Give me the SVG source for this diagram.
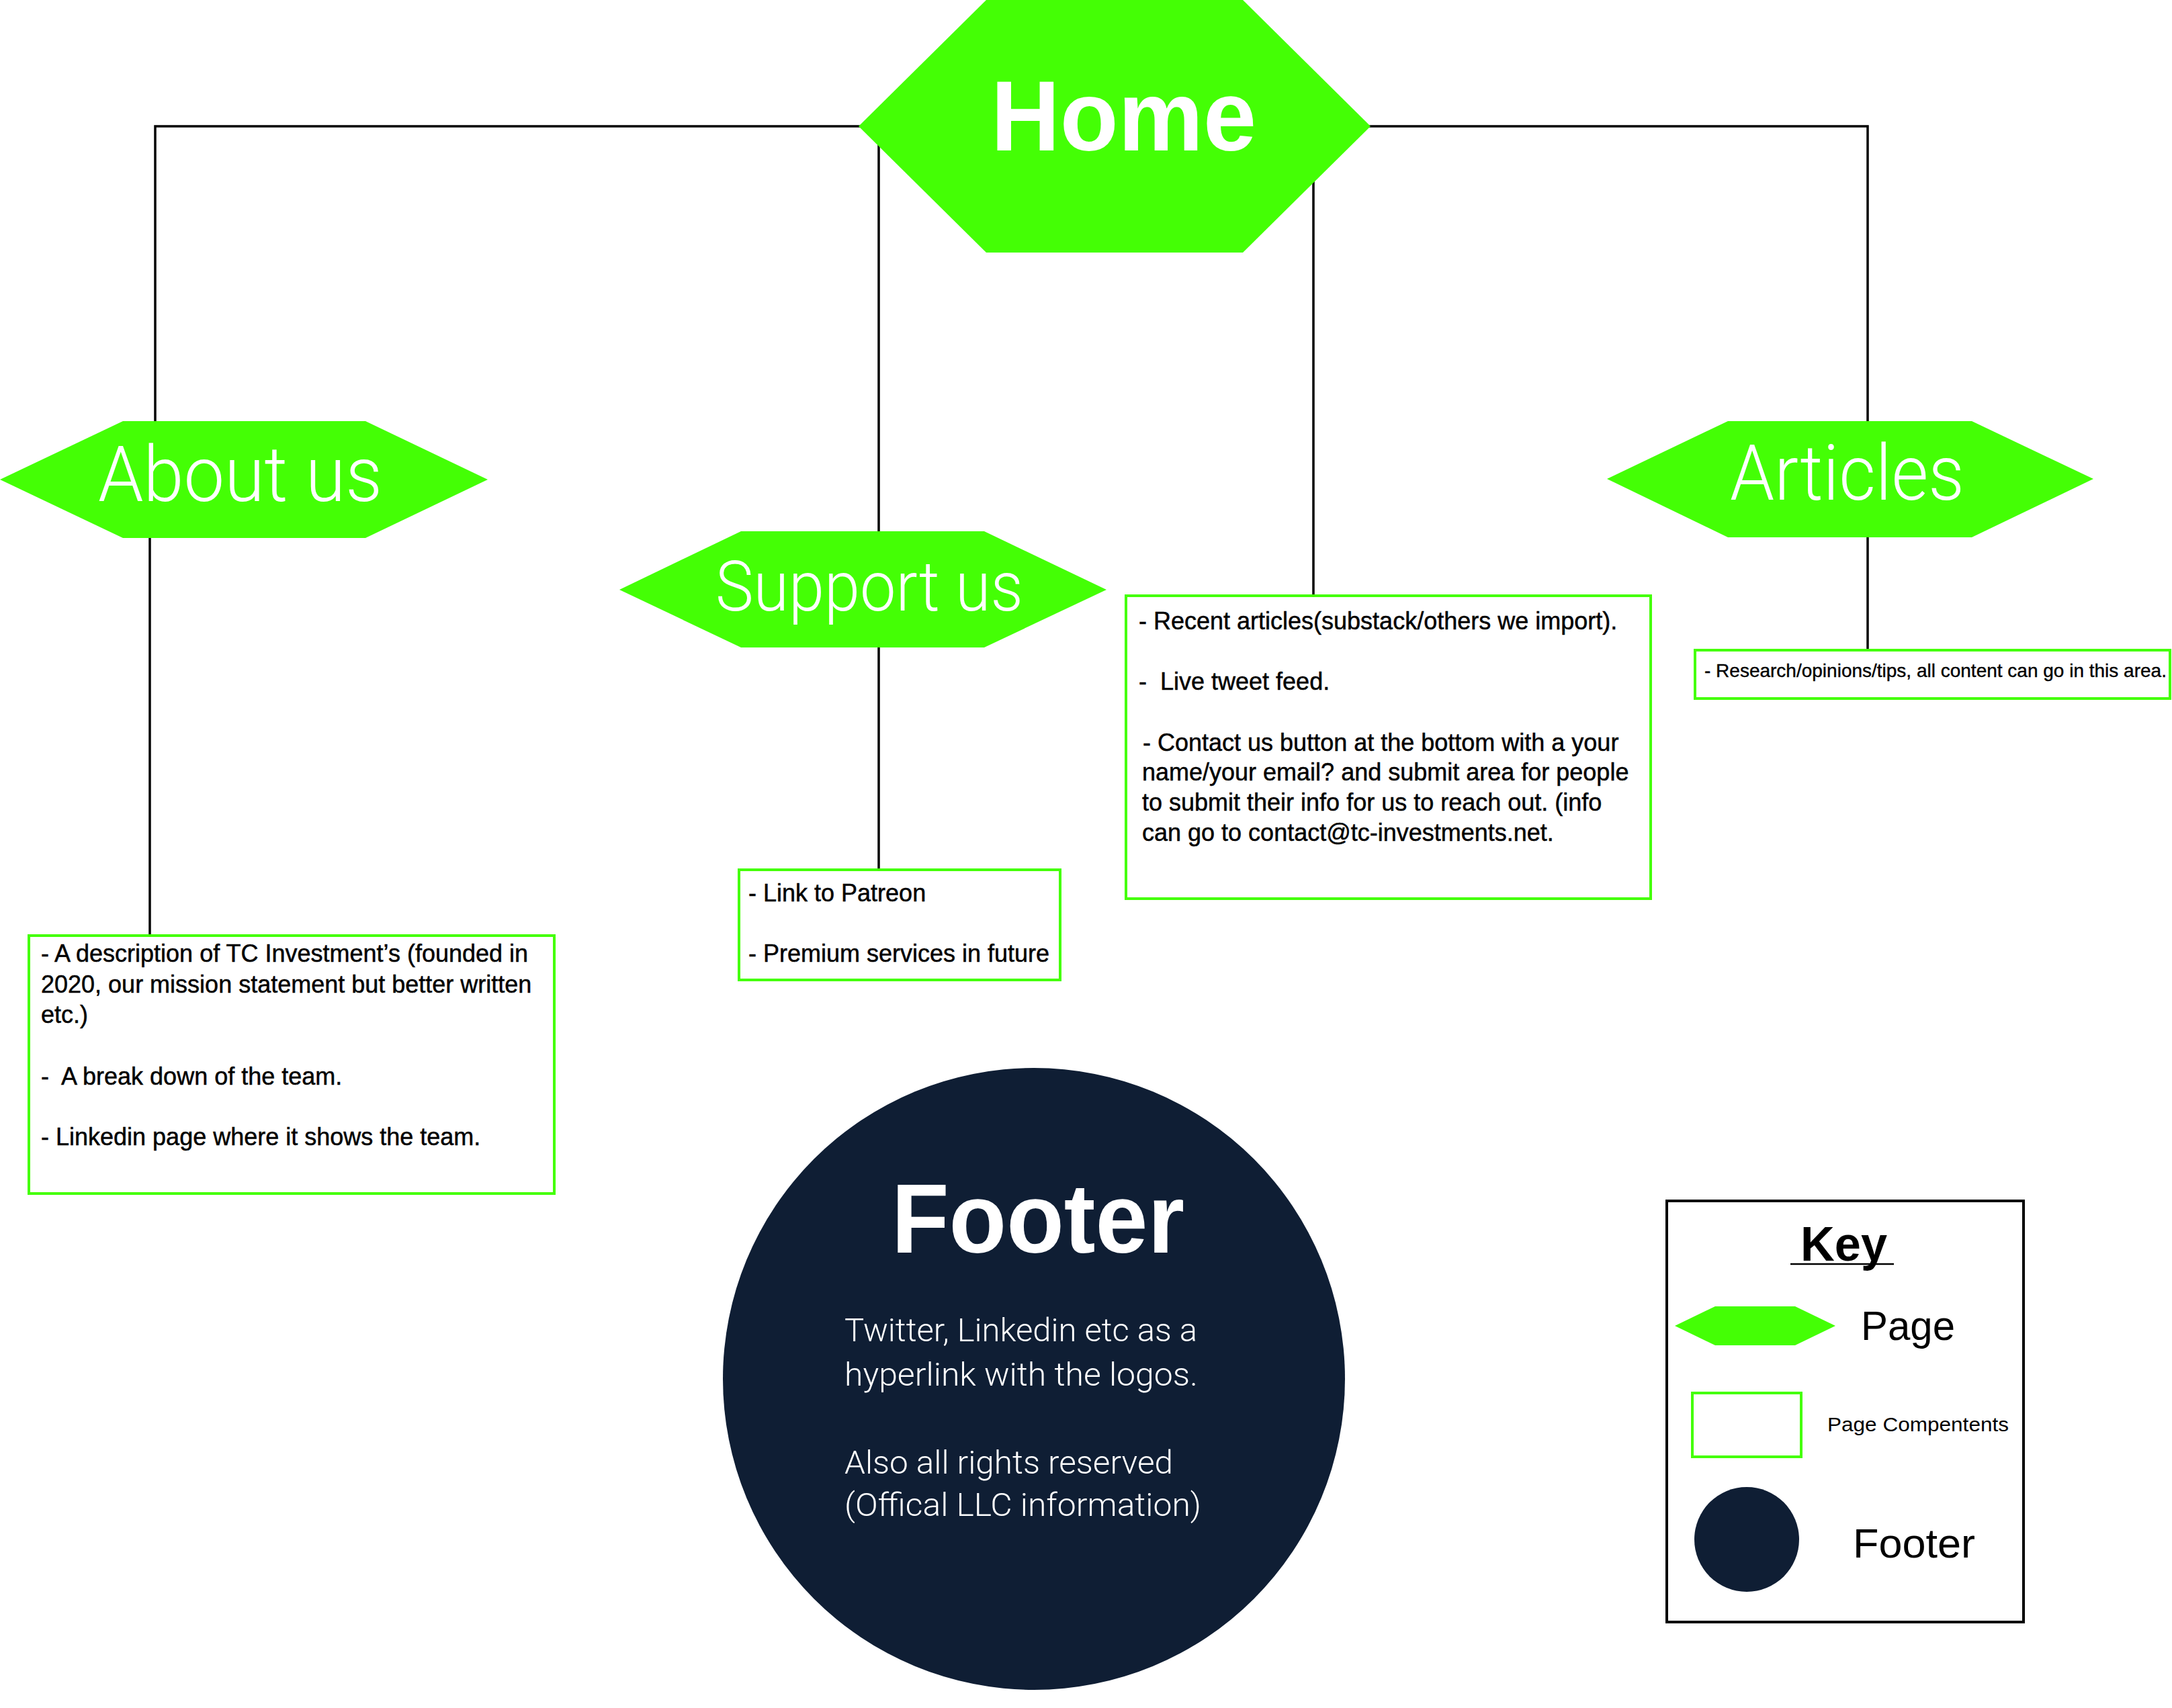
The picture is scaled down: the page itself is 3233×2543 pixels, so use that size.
<svg xmlns="http://www.w3.org/2000/svg" width="3233" height="2543" viewBox="0 0 3233 2543">
  <style>
    .page { fill: #44ff05; }
    .comp { fill: #ffffff; stroke: #44ff05; stroke-width: 4; }
    .wire { stroke: #000000; stroke-width: 3.5; fill: none; }
    .title { font-family: "Liberation Sans", Arial, sans-serif; font-weight: 700; fill: #ffffff; }
    .label { font-family: Roboto, Lato, "Liberation Sans", sans-serif; font-weight: 300; fill: #ffffff; }
    .body { font-family: "Liberation Sans", Arial, sans-serif; font-size: 36px; fill: #000000; stroke: #000000; stroke-width: 0.5; white-space: pre; }
    .small { font-size: 28px; stroke-width: 0.4; }
    .foot { font-family: Roboto, Lato, "Liberation Sans", sans-serif; font-weight: 300; font-size: 48px; fill: #ffffff; }
    .key { font-family: "Liberation Sans", Arial, sans-serif; fill: #000000; }
  </style>
  <rect x="0" y="0" width="3233" height="2543" fill="#ffffff"/>

  <!-- tree connectors -->
  <g id="connectors" class="wire">
    <polyline points="231,627 231,188 2780,188 2780,627"/>
    <line x1="1308" y1="188" x2="1308" y2="791"/>
    <line x1="1955" y1="188" x2="1955" y2="885"/>
    <line x1="223" y1="801" x2="223" y2="1391"/>
    <line x1="1308" y1="964" x2="1308" y2="1293"/>
    <line x1="2780" y1="800" x2="2780" y2="966"/>
  </g>

  <g id="home">
    <polygon class="page" points="1278,188 1468,0 1850,0 2040,188 1850,376 1468,376"/>
    <text class="title" x="1475" y="224" font-size="148" textLength="395" lengthAdjust="spacingAndGlyphs">Home</text>
  </g>

  <g id="about-us">
    <polygon class="page" points="0,714 183,627 544,627 726,714 544,801 183,801"/>
    <text class="label" x="146" y="746" font-size="115" textLength="423" lengthAdjust="spacingAndGlyphs">About us</text>
  </g>

  <g id="support-us">
    <polygon class="page" points="922,878 1103,791 1465,791 1647,878 1465,964 1103,964"/>
    <text class="label" x="1065" y="909" font-size="104" textLength="458" lengthAdjust="spacingAndGlyphs">Support us</text>
  </g>

  <g id="articles">
    <polygon class="page" points="2392,713 2572,627 2935,627 3116,713 2935,800 2572,800"/>
    <text class="label" x="2575" y="744" font-size="115" textLength="349" lengthAdjust="spacingAndGlyphs">Articles</text>
  </g>

  <g id="about-components">
    <rect class="comp" x="43" y="1393" width="782" height="384"/>
    <text class="body" x="61" y="1432">- A description of TC Investment’s (founded in</text>
    <text class="body" x="61" y="1478">2020, our mission statement but better written</text>
    <text class="body" x="61" y="1523">etc.)</text>
    <text class="body" x="61" y="1615">-  A break down of the team.</text>
    <text class="body" x="61" y="1705">- Linkedin page where it shows the team.</text>
  </g>

  <g id="support-components">
    <rect class="comp" x="1100" y="1295" width="478" height="164"/>
    <text class="body" x="1114" y="1342">- Link to Patreon</text>
    <text class="body" x="1114" y="1432">- Premium services in future</text>
  </g>

  <g id="home-components">
    <rect class="comp" x="1676" y="887" width="781" height="451"/>
    <text class="body" x="1695" y="937">- Recent articles(substack/others we import).</text>
    <text class="body" x="1695" y="1027">-  Live tweet feed.</text>
    <text class="body" x="1701" y="1118">- Contact us button at the bottom with a your</text>
    <text class="body" x="1700" y="1162">name/your email? and submit area for people</text>
    <text class="body" x="1700" y="1207">to submit their info for us to reach out. (info</text>
    <text class="body" x="1700" y="1252">can go to contact@tc-investments.net.</text>
  </g>

  <g id="articles-components">
    <rect class="comp" x="2523" y="968" width="707" height="72"/>
    <text class="body small" x="2537" y="1008">- Research/opinions/tips, all content can go in this area.</text>
  </g>

  <g id="footer">
    <circle cx="1539" cy="2053" r="463" fill="#0f1e34"/>
    <text class="title" x="1327" y="1865" font-size="146" textLength="436" lengthAdjust="spacingAndGlyphs">Footer</text>
    <text class="foot" x="1257" y="1997" textLength="525" lengthAdjust="spacingAndGlyphs">Twitter, Linkedin etc as a</text>
    <text class="foot" x="1257" y="2063" textLength="526" lengthAdjust="spacingAndGlyphs">hyperlink with the logos.</text>
    <text class="foot" x="1257" y="2194" textLength="489" lengthAdjust="spacingAndGlyphs">Also all rights reserved</text>
    <text class="foot" x="1257" y="2257" textLength="531" lengthAdjust="spacingAndGlyphs">(Offical LLC information)</text>
  </g>

  <g id="key">
    <rect x="2481" y="1788" width="531" height="627" fill="#ffffff" stroke="#000000" stroke-width="4"/>
    <text class="key" x="2680" y="1877" font-size="72" font-weight="700" textLength="129" lengthAdjust="spacingAndGlyphs">Key</text>
    <line x1="2665" y1="1882" x2="2819" y2="1882" stroke="#000000" stroke-width="2.5"/>
    <polygon class="page" points="2493,1974 2553,1945 2672,1945 2732,1974 2672,2003 2553,2003"/>
    <text class="key" x="2770" y="1995" font-size="62" textLength="140" lengthAdjust="spacingAndGlyphs">Page</text>
    <rect class="comp" x="2519" y="2074" width="162" height="95"/>
    <text class="key" x="2720" y="2131" font-size="30" textLength="270" lengthAdjust="spacingAndGlyphs">Page Compentents</text>
    <circle cx="2600" cy="2292" r="78" fill="#0f1e34"/>
    <text class="key" x="2758" y="2319" font-size="62" textLength="182" lengthAdjust="spacingAndGlyphs">Footer</text>
  </g>
</svg>
